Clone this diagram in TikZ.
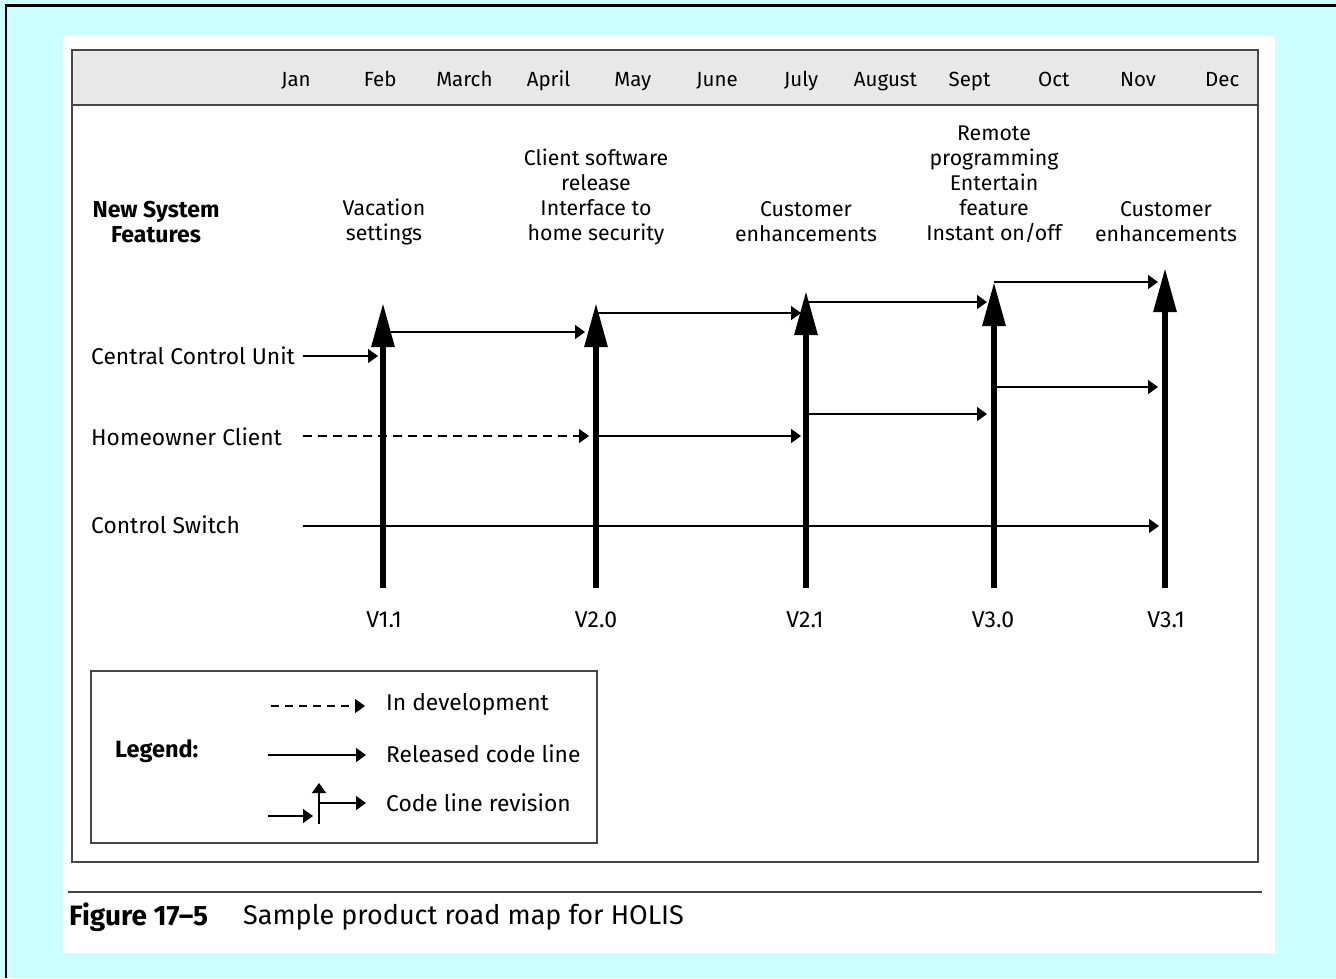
\documentclass[tikz,border=0pt]{standalone}
\usepackage{fontspec}
\setmainfont{Fira Sans}
\usetikzlibrary{arrows.meta}
\definecolor{bgcyan}{RGB}{204,255,255}
\definecolor{framegray}{RGB}{70,70,70}
\definecolor{bandgray}{RGB}{232,232,232}
\begin{document}
\begin{tikzpicture}[x=1pt,y=-1pt,
  font=\fontsize{21.3}{25}\selectfont,
  rel/.style={line width=1.6pt, -{Triangle[length=10pt,width=14pt]}},
  dev/.style={rel, dash pattern=on 9pt off 6pt},
  ver/.style={line width=6pt, -{Triangle[length=44pt,width=22pt]}},
  lab/.style={align=center, inner sep=0pt},
  lbl/.style={anchor=west, inner sep=0pt},
  rowf/.style={font=\fontsize{22.8}{26}\selectfont},
  monf/.style={anchor=base, inner sep=0pt, font=\fontsize{20.5}{25}\selectfont},
  verf/.style={anchor=base, inner sep=0pt, font=\fontsize{23}{25}\selectfont},
  frame/.style={draw=framegray, line width=1.5pt},
]
\useasboundingbox (0,0) rectangle (1336,978);
\fill[bgcyan] (0,0) rectangle (1336,978);
\draw[line width=2.5pt] (6,978) -- (6,5.5) -- (1336,5.5);
\fill[white] (63,36) rectangle (1275,953);
% frame and header band
\fill[bandgray] (72,50) rectangle (1258,105);
\draw[frame] (72,105) -- (1258,105);
\draw[frame] (72,50) rectangle (1258,862);
% months
\foreach \m [count=\i] in {Jan,Feb,March,April,May,June,July,August,Sept,Oct,Nov,Dec}
  \node[monf] (m\i) at ({296+84.2*(\i-1)},86.5) {\m};
% headings
\node[lab, font=\fontsize{23}{25}\selectfont\bfseries] (nsf) at (156,222) {New System\\Features};
\node[lab] (f11) at (384,222) {Vacation\\settings};
\node[lab] (f20) at (596,197) {Client software\\release\\Interface to\\home security};
\node[lab] (f21) at (806,222) {Customer\\enhancements};
\node[lab] (f30) at (994,184) {Remote\\programming\\Entertain\\feature\\Instant on/off};
\node[lab] (f31) at (1166,222) {Customer\\enhancements};
% row labels
\node[lbl, rowf] (ccu) at (91,356) {Central Control Unit};
\node[lbl, rowf] (hoc) at (91,437) {Homeowner Client};
\node[lbl, rowf] (csw) at (91,525) {Control Switch};
% version labels
\node[verf] (v11) at (384,627) {V1.1};
\node[verf] (v20) at (596,627) {V2.0};
\node[verf] (v21) at (805,627) {V2.1};
\node[verf] (v30) at (993,627) {V3.0};
\node[verf] (v31) at (1166,627) {V3.1};
% version release bars
\coordinate (b11) at (383,588); \coordinate (t11) at (383,303);
\coordinate (b20) at (596,588); \coordinate (t20) at (596,303);
\coordinate (b21) at (806,588); \coordinate (t21) at (806,291);
\coordinate (b30) at (994,588); \coordinate (t30) at (994,282);
\coordinate (b31) at (1165,588); \coordinate (t31) at (1165,268);
\foreach \v in {11,20,21,30,31} \draw[ver] (b\v) -- (t\v);
% Central Control Unit line
\coordinate (c0) at (303,356); \coordinate (c1) at (378,356);
\coordinate (c2a) at (391,332); \coordinate (c2b) at (585,332);
\coordinate (c3a) at (598,313); \coordinate (c3b) at (801,313);
\coordinate (c4a) at (808,302); \coordinate (c4b) at (987,302);
\coordinate (c5a) at (994,282); \coordinate (c5b) at (1158,282);
\draw[rel] (c0) -- (c1);
\draw[rel] (c2a) -- (c2b);
\draw[rel] (c3a) -- (c3b);
\draw[rel] (c4a) -- (c4b);
\draw[rel] (c5a) -- (c5b);
% Homeowner Client line
\coordinate (h0) at (303,436); \coordinate (h1) at (589,436);
\coordinate (h2a) at (596,436); \coordinate (h2b) at (801,436);
\coordinate (h3a) at (806,414); \coordinate (h3b) at (987,414);
\coordinate (h4a) at (994,387); \coordinate (h4b) at (1158,387);
\draw[dev] (h0) -- (h1);
\draw[rel] (h2a) -- (h2b);
\draw[rel] (h3a) -- (h3b);
\draw[rel] (h4a) -- (h4b);
% Control Switch line
\coordinate (s0) at (303,526); \coordinate (s1) at (1159,526);
\draw[rel] (s0) -- (s1);
% legend
\node[draw=framegray, line width=1.5pt, minimum width=506pt, minimum height=172pt, inner sep=0pt] (legend) at (344,757) {};
\node[lbl, font=\fontsize{23.5}{25}\selectfont\bfseries] (leg) at (115,751) {Legend:};
\node[lbl, rowf] (ld) at (386,704) {In development};
\node[lbl, rowf] (lr) at (386,754) {Released code line};
\node[lbl, rowf] (lc) at (386,803) {Code line revision};
\coordinate (d0) at (271,706); \coordinate (d1) at (365,706);
\draw[dev, dash pattern=on 8pt off 6pt] (d0) -- (d1);
\coordinate (r0) at (268,755); \coordinate (r1) at (366,755);
\draw[rel] (r0) -- (r1);
\coordinate (q0) at (268,816); \coordinate (q1) at (313,816);
\draw[rel] (q0) -- (q1);
\coordinate (qb) at (319,824); \coordinate (qt) at (319,783);
\draw[rel] (qb) -- (qt);
\coordinate (qh0) at (319,803); \coordinate (qh1) at (366,803);
\draw[rel] (qh0) -- (qh1);
% caption
\draw[draw=framegray, line width=2pt] (68,892) -- (1262,892);
\node[lbl, font=\fontsize{28}{30}\selectfont\bfseries] (fig) at (69,917) {Figure 17–5};
\node[lbl, font=\fontsize{27}{30}\selectfont] (cap) at (243,917) {Sample product road map for HOLIS};
\end{tikzpicture}
\end{document}
